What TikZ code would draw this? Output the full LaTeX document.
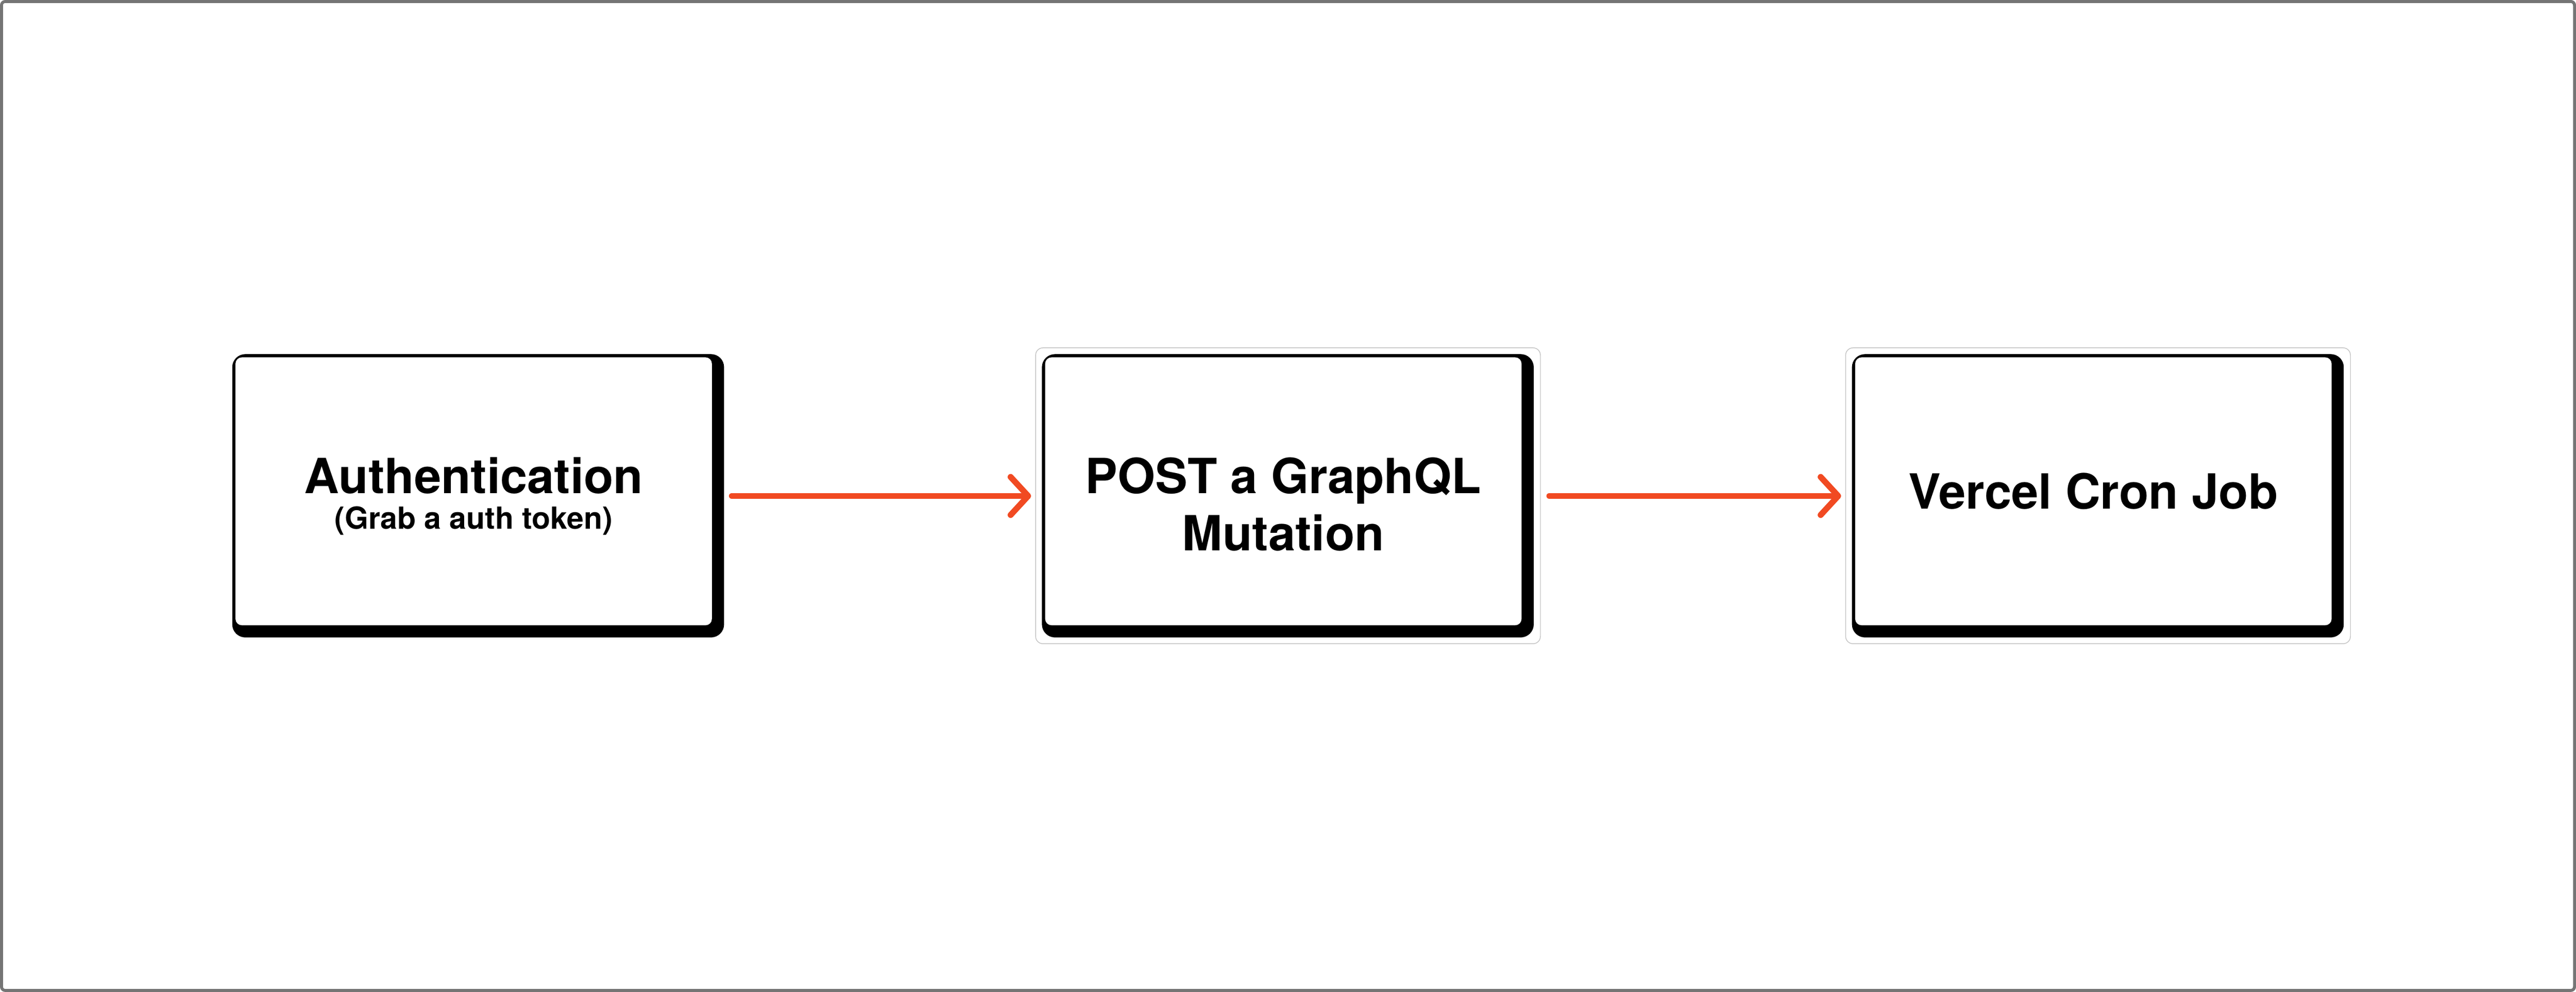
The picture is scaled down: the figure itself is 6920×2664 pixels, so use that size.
\documentclass[tikz,border=0pt]{standalone}
\usepackage{fontspec}
\setmainfont{TeX Gyre Heros}
\usetikzlibrary{arrows.meta,backgrounds}
\definecolor{flowred}{RGB}{241,74,34}
\definecolor{framegray}{RGB}{117,117,117}
\definecolor{selgray}{RGB}{196,196,196}
\begin{document}
\begin{tikzpicture}[x=0.01cm,y=-0.01cm,
  box/.style={rectangle, fill=white, rounded corners=0.17cm, minimum width=12.79cm, minimum height=7.19cm, inner sep=0pt},
  titletext/.style={font=\fontsize{37}{43.8}\selectfont\bfseries, inner sep=0pt},
  subtext/.style={font=\fontsize{23.2}{27}\selectfont\bfseries, inner sep=0pt},
  shadowfill/.style={fill=black, rounded corners=0.35cm},
  selframe/.style={draw=selgray, line width=0.57pt, rounded corners=0.2cm},
  flow/.style={draw=flowred, line width=4.55pt, line cap=round, -{Straight Barb[length=4.7mm,width=10.2mm,round]}}
]
\useasboundingbox (0,0) rectangle (6920,2664);
% boxes
\node[box] (auth) at (1272.5,1319.5) {};
\node[box] (post) at (3447.5,1319.5) {};
\node[box] (cron) at (5623.5,1319.5) {};
% texts
\node[titletext, anchor=base] (authT) at (1272.5,1325) {Authentication};
\node[subtext, anchor=base] (authS) at (1272.5,1420) {(Grab a auth token)};
\node[titletext, anchor=base, align=center] (postT) at (3447.5,1479) {POST a GraphQL\\Mutation};
\node[titletext, anchor=base] (cronT) at (5623.5,1366) {Vercel Cron Job};
% connectors
\draw[flow, shorten <=0.53cm, shorten >=0.37cm] ([yshift=-0.125cm]auth.east) -- ([yshift=-0.125cm]post.west);
\draw[flow, shorten <=0.74cm, shorten >=0.37cm] ([yshift=-0.125cm]post.east) -- ([yshift=-0.125cm]cron.west);
\begin{pgfonlayer}{background}
  \fill[white] (0,0) rectangle (6920,2664);
  \draw[framegray, line width=2.28pt, rounded corners=0.1cm] (4,4) rectangle (6916,2660);
  \draw[selframe] ([shift={(-25,-25)}]post.north west) rectangle ([shift={(50,49)}]post.south east);
  \draw[selframe] ([shift={(-25,-25)}]cron.north west) rectangle ([shift={(50,49)}]cron.south east);
  \fill[shadowfill] ([shift={(-8,-8)}]auth.north west) rectangle ([shift={(32,32)}]auth.south east);
  \fill[shadowfill] ([shift={(-8,-8)}]post.north west) rectangle ([shift={(32,32)}]post.south east);
  \fill[shadowfill] ([shift={(-8,-8)}]cron.north west) rectangle ([shift={(32,32)}]cron.south east);
\end{pgfonlayer}
\end{tikzpicture}
\end{document}
